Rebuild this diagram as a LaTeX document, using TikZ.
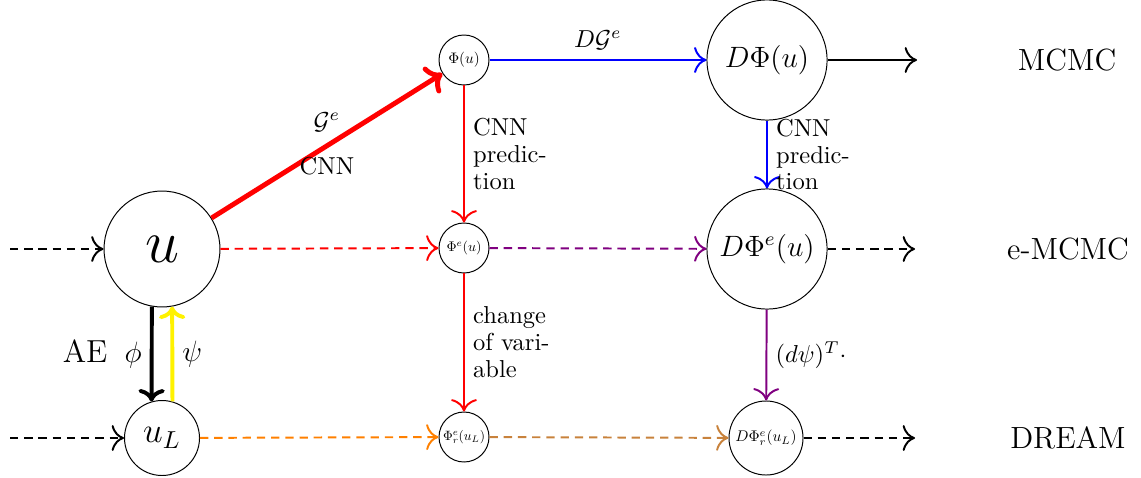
\documentclass[tikz,border=0pt]{standalone}
\usepackage{graphicx}
\usetikzlibrary{arrows.meta}
\definecolor{mypurple}{RGB}{128,0,128}
\definecolor{mybrown}{RGB}{200,130,60}
\begin{document}
\begin{tikzpicture}[x=0.408pt,y=-0.408pt,
  state/.style={circle,draw,inner sep=0pt},
  tip/.style={-{Computer Modern Rightarrow[scale=1.5]}},
  conn/.style={tip,thick},
  flow/.style={tip,thick,dash pattern=on 3.4pt off 2.4pt},
  lbl/.style={text=black,font=\fontsize{10}{11}\selectfont},
  note/.style={right,text=black,align=left,text width=1.2cm,font=\fontsize{10}{11}\selectfont},
  rowname/.style={font=\fontsize{12.5}{14}\selectfont}]
\useasboundingbox (0,0) rectangle (1141,477);

% states
\node[state,minimum size=47.3pt,font=\fontsize{26}{30}\selectfont] (u) at (162,249) {$u$};
\node[state,minimum size=30.6pt,font=\Large] (uL) at (162,438) {$u_L$};
\node[state,minimum size=20.4pt] (phi) at (464,60) {\scalebox{0.62}{$\Phi(u)$}};
\node[state,minimum size=20.4pt] (phie) at (464,248) {\scalebox{0.57}{$\Phi^e(u)$}};
\node[state,minimum size=20.4pt] (phier) at (464,437) {\scalebox{0.55}{$\Phi^e_r(u_L)$}};
\node[state,minimum size=49pt,font=\fontsize{12.5}{14}\selectfont] (dphi) at (767,60) {$D\Phi(u)$};
\node[state,minimum size=49pt,font=\fontsize{12}{14}\selectfont] (dphie) at (767,249) {$D\Phi^e(u)$};
\node[state,minimum size=30.2pt] (dphier) at (766,438) {\scalebox{0.63}{$D\Phi^e_r(u_L)$}};

% row names
\node[rowname] (r1) at (1067,60) {MCMC};
\node[rowname] (r2) at (1068,249) {e-MCMC};
\node[rowname] (r3) at (1068,438) {DREAM};

% free ends
\coordinate (in2) at (10,249);
\coordinate (in3) at (10,438);
\coordinate (out1) at (917,60);
\coordinate (out2) at (915,249);
\coordinate (out3) at (915,438);

% top row
\draw[->,line width=2pt,red] (u) -- node[lbl,yshift=9.5pt]{$\mathcal{G}^e$} node[lbl,yshift=-8.5pt]{CNN} (phi);
\draw[conn,blue] (phi) -- node[lbl,yshift=8pt]{$D\mathcal{G}^e$} (dphi);
\draw[conn] (dphi) -- (out1);

% vertical predictions
\draw[conn,red] (phi) -- node[note]{CNN prediction} (phie);
\draw[conn,red] (phie) -- node[note]{change of variable} (phier);
\draw[conn,blue] (dphi) -- node[note]{CNN prediction} (dphie);
\draw[conn,mypurple] (dphie) -- node[lbl,right]{$(d\psi)^T\cdot$} (dphier);

% middle row
\draw[flow] (in2) -- (u);
\draw[flow,red] (u) -- (phie);
\draw[flow,mypurple] (phie) -- (dphie);
\draw[flow] (dphie) -- (out2);

% bottom row
\draw[flow] (in3) -- (uL);
\draw[flow,orange] (uL) -- (phier);
\draw[flow,mybrown] (phier) -- (dphier);
\draw[flow] (dphier) -- (out3);

% autoencoder
\draw[->,ultra thick] (u.260) -- node[left,text=black,font=\fontsize{13}{15}\selectfont]{AE\hspace{7pt}$\phi$} (uL.106);
\draw[->,ultra thick,yellow] (uL.74) -- node[right,text=black,font=\fontsize{13}{15}\selectfont]{$\psi$} (u.280);
\end{tikzpicture}
\end{document}
